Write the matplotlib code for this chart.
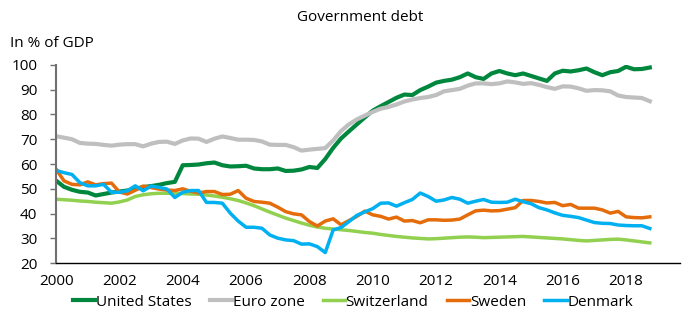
import numpy as np
import matplotlib
matplotlib.use("Agg")
import matplotlib.pyplot as plt

plt.rcParams['font.family'] = ['Open Sans', 'DejaVu Sans']

# quarterly data, 2000Q1 - 2018Q4, in % of GDP
quarters = 2000 + np.arange(76) * 0.25

us = [53.3, 50.8, 49.6, 48.8, 48.5, 47.3, 47.9, 48.5, 48.9, 49.3, 50.0, 50.7,
      51.1, 51.6, 52.3, 52.8, 59.5, 59.6, 59.8, 60.3, 60.6, 59.5, 59.0, 59.1,
      59.3, 58.2, 57.9, 57.9, 58.2, 57.2, 57.3, 57.8, 58.8, 58.4, 62.0, 66.5,
      70.3, 73.2, 76.0, 78.8, 81.5, 83.3, 85.0, 86.7, 88.0, 87.8, 89.8, 91.2,
      92.8, 93.5, 94.0, 95.0, 96.5, 95.0, 94.3, 96.5, 97.5, 96.5, 95.8, 96.5,
      95.5, 94.5, 93.5, 96.5, 97.6, 97.3, 97.8, 98.5, 97.0, 95.8, 97.0, 97.5,
      99.2, 98.2, 98.3, 98.9]

euro = [71.2, 70.6, 70.0, 68.5, 68.2, 68.1, 67.7, 67.4, 67.8, 68.0, 68.0, 67.1,
        68.2, 68.9, 69.0, 68.1, 69.5, 70.3, 70.2, 68.9, 70.2, 71.1, 70.5, 69.8,
        69.8, 69.7, 69.1, 67.8, 67.7, 67.7, 66.8, 65.4, 65.8, 66.1, 66.4, 69.5,
        73.3, 76.0, 78.0, 79.5, 81.0, 82.3, 83.0, 84.0, 85.2, 86.0, 86.6, 87.0,
        87.8, 89.3, 89.8, 90.3, 91.6, 92.5, 92.5, 92.2, 92.5, 93.3, 92.9, 92.3,
        92.6, 91.9, 91.0, 90.3, 91.3, 91.2, 90.5, 89.5, 89.8, 89.7, 89.3, 87.6,
        87.0, 86.8, 86.6, 85.3]

switzerland = [45.8, 45.6, 45.4, 45.1, 44.9, 44.6, 44.4, 44.2, 44.7, 45.5, 46.9, 47.6,
               48.0, 48.2, 48.2, 48.2, 48.1, 47.9, 47.8, 47.5, 47.1, 46.6, 46.0, 45.3,
               44.3, 43.2, 41.9, 40.6, 39.4, 38.2, 37.2, 36.2, 35.3, 34.6, 34.1, 33.8,
               33.5, 33.2, 32.8, 32.4, 32.1, 31.6, 31.2, 30.8, 30.5, 30.2, 30.0, 29.8,
               29.9, 30.1, 30.3, 30.5, 30.6, 30.5, 30.3, 30.4, 30.5, 30.6, 30.7, 30.8,
               30.6, 30.4, 30.2, 30.0, 29.8, 29.5, 29.2, 29.0, 29.2, 29.4, 29.6, 29.7,
               29.4, 29.0, 28.6, 28.2]

sweden = [57.9, 53.2, 51.8, 51.6, 52.8, 51.6, 52.1, 52.3, 48.7, 47.9, 49.4, 51.1,
          50.5, 49.9, 49.5, 49.3, 50.0, 49.0, 48.3, 48.9, 48.9, 47.7, 47.8, 49.3,
          46.2, 44.9, 44.6, 44.2, 42.6, 40.8, 39.9, 39.5, 36.8, 35.0, 37.0, 37.9,
          35.5, 37.2, 38.9, 41.0, 39.5, 38.9, 37.8, 38.6, 37.0, 37.2, 36.3, 37.5,
          37.5, 37.3, 37.4, 37.8, 39.5, 41.1, 41.4, 41.1, 41.2, 41.8, 42.4, 45.3,
          45.3, 44.9, 44.3, 44.5, 43.2, 43.7, 42.2, 42.2, 42.2, 41.5, 40.2, 40.9,
          38.7, 38.4, 38.3, 38.7]

denmark = [57.4, 56.5, 55.8, 52.5, 51.2, 51.2, 51.8, 48.6, 48.6, 49.2, 51.2, 49.2,
           51.1, 50.6, 49.9, 46.5, 48.6, 49.3, 49.3, 44.5, 44.5, 44.2, 40.2, 37.0,
           34.5, 34.5, 34.1, 31.4, 30.1, 29.4, 29.1, 27.7, 27.8, 26.7, 24.3, 33.4,
           34.4, 36.8, 39.3, 40.7, 42.0, 44.2, 44.3, 43.0, 44.4, 45.7, 48.3, 46.9,
           45.0, 45.5, 46.5, 45.8, 44.2, 45.0, 45.7, 44.6, 44.5, 44.6, 45.8, 44.8,
           44.0, 42.4, 41.5, 40.3, 39.3, 38.9, 38.4, 37.4, 36.4, 36.1, 36.0, 35.4,
           35.2, 35.1, 35.1, 34.0]

names = ['United States', 'Euro zone', 'Switzerland', 'Sweden', 'Denmark']
colors = ['#00873E', '#BFBFBF', '#92D050', '#E46C0A', '#00B0F0']
widths = [3.0, 3.0, 2.5, 2.5, 2.5]

fig = plt.figure(figsize=(6.84, 3.16), dpi=100)
ax = fig.add_axes([0.082, 0.167, 0.912, 0.628])

for vals, name, c, w in zip([us, euro, switzerland, sweden, denmark], names, colors, widths):
    ax.plot(quarters, vals, color=c, lw=w, label=name, solid_joinstyle='round')

ax.set_xlim(2000, 2019.7)
ax.set_ylim(20, 100)
ax.set_xticks(range(2000, 2019, 2))
ax.set_yticks(range(20, 101, 10))

ax.spines['top'].set_visible(False)
ax.spines['right'].set_visible(False)
ax.spines['left'].set_color('#707070')
ax.spines['left'].set_linewidth(1.5)
ax.spines['bottom'].set_color('black')
ax.spines['bottom'].set_linewidth(1.0)
ax.tick_params(axis='y', length=4.5, width=1.0, color='#707070', pad=9, labelsize=11)
ax.tick_params(axis='x', length=0, pad=8, labelsize=11)

fig.text(0.526, 0.945, 'Government debt', ha='center', va='center', fontsize=11)
fig.text(0.014, 0.862, 'In % of GDP', ha='left', va='center', fontsize=11)

fig.legend(loc='center', bbox_to_anchor=(0.516, 0.044), ncol=5, frameon=False,
           fontsize=11, handlelength=1.45, handletextpad=0.05, columnspacing=1.2,
           borderaxespad=0)

fig.savefig('out.png', dpi=100)
